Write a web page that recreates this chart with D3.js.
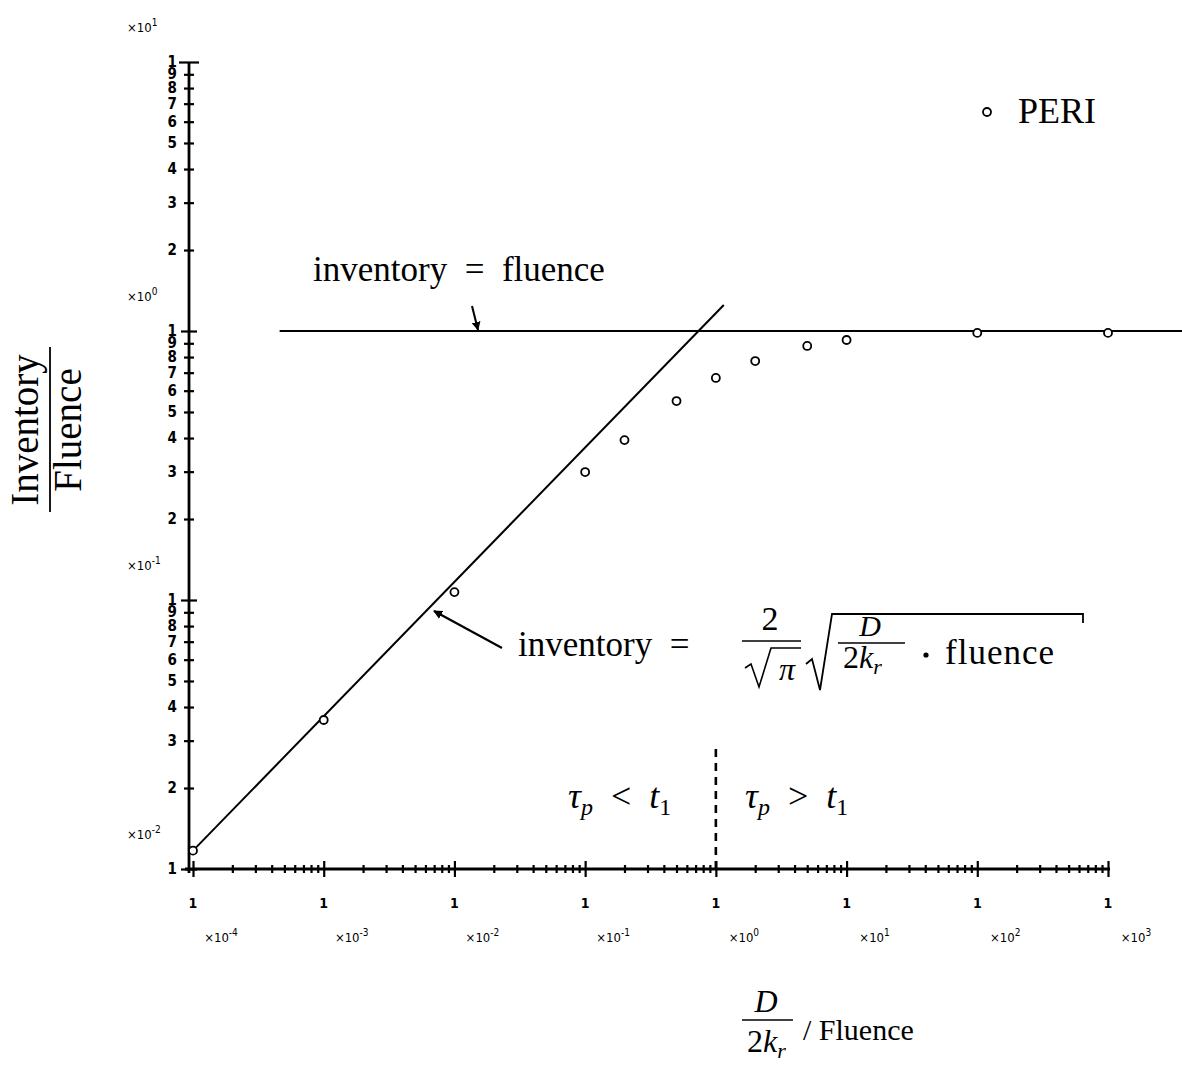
<!DOCTYPE html>
<html><head><meta charset="utf-8">
<script src="https://cdn.jsdelivr.net/npm/d3@7"></script>
<style>body{margin:0;background:#fff}svg{display:block}</style>
</head><body>
<svg id="chart" width="1182" height="1067"></svg>
<script>
// PERI measurements: inventory/fluence against (D/2k_r)/fluence
const ratio = [1e-4, 1e-3, 1e-2, 1e-1, 0.2, 0.5, 1, 2, 5, 10, 100, 1000];
const periInventory = [0.0117, 0.0358, 0.107, 0.299, 0.393, 0.549, 0.669, 0.773, 0.880, 0.926, 0.984, 0.984];

// limiting cases
const fluenceLimitX = [4.6e-4, 3700];
const fluenceLimitY = [1, 1];
const sqrtLawX = [1e-4, 1.15];
const sqrtLawY = [0.0117, 1.25];
// boundary between the two regimes
const regimeX = [1, 1];
const regimeY = [0.01, 0.029];

const xDecades = [1e-4, 1e-3, 1e-2, 1e-1, 1, 10, 100, 1000];
const xExponents = ["-4", "-3", "-2", "-1", "0", "1", "2", "3"];
const yDecades = [1e-2, 1e-1, 1, 10];
const yExponents = ["-2", "-1", "0", "1"];

const svg = d3.select("#chart");
const serif = "Liberation Serif, Times New Roman, serif";
const plotter = "DejaVu Sans Condensed, DejaVu Sans, sans-serif";

const x = d3.scaleLog().domain([1e-4, 1e3]).range([193, 1108]);
const y = d3.scaleLog().domain([1e-2, 1e1]).range([869, 62]);
const axisX0 = 189, axisY0 = 869;

const isMajor = v => Math.abs(Math.log10(v) - Math.round(Math.log10(v))) < 1e-6;
const digit = v => Math.round(v / Math.pow(10, Math.floor(Math.log10(v) + 1e-9)));

// ---- x axis ----
const xTickVals = x.ticks();
const gx = svg.append("g").attr("transform", `translate(0,${axisY0})`)
  .call(d3.axisBottom(x).tickValues(xTickVals).tickSizeOuter(0).tickSize(0).tickFormat(""));
gx.select(".domain").attr("d", `M${axisX0 - 4},0H${x(1e3) + 2}`).attr("stroke", "#000").attr("stroke-width", 2.8);
gx.selectAll(".tick line")
  .attr("y1", d => isMajor(d) ? -8 : -4)
  .attr("y2", d => isMajor(d) ? 8 : 4)
  .attr("stroke", "#000").attr("stroke-width", 2.2);

const gxl = svg.append("g").attr("font-family", plotter).attr("font-weight", "bold").attr("fill", "#000");
gxl.selectAll("text.one").data(xDecades).join("text")
  .attr("x", d => x(d)).attr("y", 908).attr("text-anchor", "middle")
  .attr("font-size", 14).text("1");
const xe = gxl.selectAll("text.exp").data(xDecades).join("text")
  .attr("x", d => x(d) + 28).attr("y", 942).attr("text-anchor", "middle")
  .attr("font-size", 13).attr("font-weight", "normal");
xe.append("tspan").text("×10");
xe.append("tspan").attr("dy", -6).attr("font-size", 10).text((d, i) => xExponents[i]);

// ---- y axis ----
const yTickVals = y.ticks();
const gy = svg.append("g").attr("transform", `translate(${axisX0},0)`)
  .call(d3.axisLeft(y).tickValues(yTickVals).tickSizeOuter(0).tickSize(0).tickFormat(""));
gy.select(".domain").attr("d", `M0,${y(10)}V${axisY0 + 4}`).attr("stroke", "#000").attr("stroke-width", 2.8);
gy.selectAll(".tick line")
  .attr("x1", d => d === 10 ? -10 : (isMajor(d) ? -8 : -5))
  .attr("x2", d => d === 10 ? 10 : (isMajor(d) ? 8 : 5))
  .attr("stroke", "#000").attr("stroke-width", 2.2);

const gyl = svg.append("g").attr("font-family", plotter).attr("font-weight", "bold").attr("fill", "#000");
gyl.selectAll("text.tick").data(yTickVals).join("text")
  .attr("x", axisX0 - 12).attr("y", d => y(d) + 5).attr("text-anchor", "end")
  .attr("font-size", 15).text(d => String(digit(d)));
const ye = gyl.selectAll("text.exp").data(yDecades).join("text")
  .attr("x", 127).attr("y", d => y(d) - 30)
  .attr("font-size", 13).attr("font-weight", "normal");
ye.append("tspan").text("×10");
ye.append("tspan").attr("dy", -6).attr("font-size", 10).text((d, i) => yExponents[i]);

// ---- guide lines ----
const line = d3.line().x(d => x(d[0])).y(d => y(d[1]));
svg.append("path").datum(d3.zip(fluenceLimitX, fluenceLimitY)).attr("d", line)
  .attr("fill", "none").attr("stroke", "#000").attr("stroke-width", 2);
svg.append("path").datum(d3.zip(sqrtLawX, sqrtLawY)).attr("d", line)
  .attr("fill", "none").attr("stroke", "#000").attr("stroke-width", 2);
svg.append("path").datum(d3.zip(regimeX, regimeY)).attr("d", line)
  .attr("fill", "none").attr("stroke", "#000").attr("stroke-width", 2.6)
  .attr("stroke-dasharray", "8,6");

// ---- data ----
svg.append("g").selectAll("circle").data(d3.zip(ratio, periInventory)).join("circle")
  .attr("cx", d => x(d[0])).attr("cy", d => y(d[1])).attr("r", 4)
  .attr("fill", "#fff").attr("stroke", "#000").attr("stroke-width", 1.8);

// ---- legend ----
svg.append("circle").attr("cx", 987).attr("cy", 112).attr("r", 4)
  .attr("fill", "#fff").attr("stroke", "#000").attr("stroke-width", 1.8);
svg.append("text").attr("x", 1018).attr("y", 123).attr("font-family", serif)
  .attr("font-size", 36).text("PERI");

// ---- annotations ----
const ann = svg.append("g").attr("font-family", serif).attr("fill", "#000");
ann.append("text").attr("x", 313).attr("y", 281).attr("font-size", 35)
  .attr("xml:space", "preserve").text("inventory  =  fluence");

const defs = svg.append("defs");
defs.append("marker").attr("id", "head").attr("viewBox", "0 0 10 10")
  .attr("refX", 9).attr("refY", 5).attr("markerWidth", 9).attr("markerHeight", 9)
  .attr("markerUnits", "userSpaceOnUse").attr("orient", "auto")
  .append("path").attr("d", "M0,0L10,5L0,10z").attr("fill", "#000");

svg.append("line").attr("x1", 472).attr("y1", 306).attr("x2", 478).attr("y2", 330)
  .attr("stroke", "#000").attr("stroke-width", 2).attr("marker-end", "url(#head)");
svg.append("line").attr("x1", 502).attr("y1", 648).attr("x2", 434).attr("y2", 611)
  .attr("stroke", "#000").attr("stroke-width", 2.2).attr("marker-end", "url(#head)");

// inventory = 2/sqrt(pi) * sqrt(D/2k_r * fluence)
ann.append("text").attr("x", 518).attr("y", 656).attr("font-size", 35)
  .attr("xml:space", "preserve").text("inventory  =");
ann.append("text").attr("x", 770).attr("y", 630).attr("font-size", 34).attr("text-anchor", "middle").text("2");
ann.append("line").attr("x1", 742).attr("x2", 801).attr("y1", 641).attr("y2", 641).attr("stroke", "#000").attr("stroke-width", 1.6);
ann.append("path").attr("d", "M745,668L751,664L759,687L771,648H801").attr("fill", "none").attr("stroke", "#000").attr("stroke-width", 1.6);
ann.append("text").attr("x", 787).attr("y", 680).attr("font-size", 32).attr("font-style", "italic").attr("text-anchor", "middle").text("π");
ann.append("path").attr("d", "M806,664L812,659L820,690L832,614H1083V623").attr("fill", "none").attr("stroke", "#000").attr("stroke-width", 1.8);
ann.append("text").attr("x", 870).attr("y", 636).attr("font-size", 30).attr("font-style", "italic").attr("text-anchor", "middle").text("D");
ann.append("line").attr("x1", 838).attr("x2", 905).attr("y1", 643).attr("y2", 643).attr("stroke", "#000").attr("stroke-width", 1.6);
const den1 = ann.append("text").attr("x", 843).attr("y", 668).attr("font-size", 32);
den1.append("tspan").text("2");
den1.append("tspan").attr("font-style", "italic").text("k");
den1.append("tspan").attr("font-style", "italic").attr("font-size", 22).attr("dy", 6).text("r");
ann.append("circle").attr("cx", 926).attr("cy", 655).attr("r", 2.6).attr("fill", "#000");
ann.append("text").attr("x", 945).attr("y", 664).attr("font-size", 35).attr("letter-spacing", 1).text("fluence");

// regime labels
function regime(xPos, sym) {
  const t = ann.append("text").attr("x", xPos).attr("y", 808).attr("font-size", 36).attr("xml:space", "preserve");
  t.append("tspan").attr("font-style", "italic").text("τ");
  t.append("tspan").attr("font-style", "italic").attr("font-size", 24).attr("dy", 7).text("p");
  t.append("tspan").attr("dy", -7).text("  " + sym + "  ");
  t.append("tspan").attr("font-style", "italic").text("t");
  t.append("tspan").attr("font-size", 24).attr("dy", 7).text("1");
}
regime(568, "<");
regime(745, ">");

// axis titles
const yt = svg.append("g").attr("font-family", serif).attr("font-size", 39);
yt.append("text").attr("transform", "translate(38,430) rotate(-90)").attr("text-anchor", "middle").text("Inventory");
yt.append("line").attr("x1", 50).attr("x2", 50).attr("y1", 347).attr("y2", 512).attr("stroke", "#000").attr("stroke-width", 1.8);
yt.append("text").attr("transform", "translate(81,430) rotate(-90)").attr("text-anchor", "middle").text("Fluence");

const xt = svg.append("g").attr("font-family", serif).attr("font-size", 32);
xt.append("text").attr("x", 766).attr("y", 1012).attr("font-style", "italic").attr("text-anchor", "middle").text("D");
xt.append("line").attr("x1", 742).attr("x2", 793).attr("y1", 1020).attr("y2", 1020).attr("stroke", "#000").attr("stroke-width", 1.6);
const den2 = xt.append("text").attr("x", 747).attr("y", 1052);
den2.append("tspan").text("2");
den2.append("tspan").attr("font-style", "italic").text("k");
den2.append("tspan").attr("font-style", "italic").attr("font-size", 22).attr("dy", 6).text("r");
xt.append("text").attr("x", 803).attr("y", 1040).attr("font-size", 30).attr("xml:space", "preserve").text("/ Fluence");
</script>
</body></html>
